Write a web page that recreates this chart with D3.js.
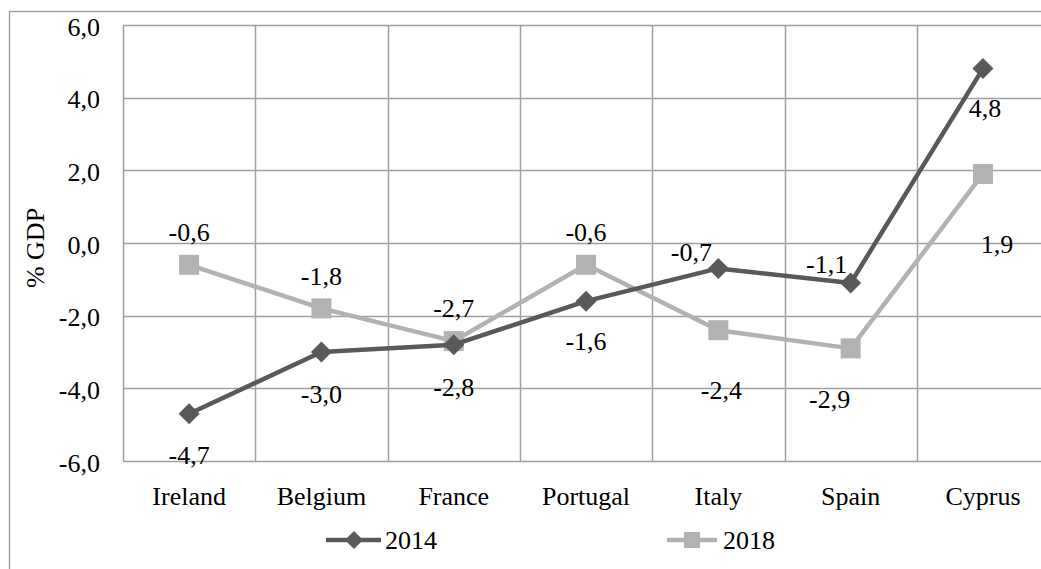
<!DOCTYPE html>
<html>
<head>
<meta charset="utf-8">
<script src="https://cdn.jsdelivr.net/npm/d3@7"></script>
<style>
  html, body { margin: 0; padding: 0; background: #fff; }
  svg { display: block; }
</style>
</head>
<body>
<svg id="chart" width="1041" height="569"></svg>
<script>
// ---- data ----
const categories = ["Ireland", "Belgium", "France", "Portugal", "Italy", "Spain", "Cyprus"];
const seriesNames = ["2014", "2018"];
const values2014 = [-4.7, -3.0, -2.8, -1.6, -0.7, -1.1, 4.8];
const values2018 = [-0.6, -1.8, -2.7, -0.6, -2.4, -2.9, 1.9];
const yTicks = [-6, -4, -2, 0, 2, 4, 6];
const yTitle = "% GDP";

// ---- label placement (layout only) ----
const labelOffset2014 = [[0, 42], [0, 42], [0, 43], [0, 40], [-27, -16], [-24, -18], [2, 40]];
const labelOffset2018 = [[0, -32], [0, -32], [0, -33], [0, -32], [3, 60], [-21, 51], [14, 71]];

const fmt = v => d3.format(".1f")(v).replace(".", ",").replace("−", "-");

const FONT = "'Liberation Serif', Tinos, 'Times New Roman', Times, 'DejaVu Serif', serif";
const svg = d3.select("#chart").attr("font-family", FONT);
const plot = { left: 123, top: 25, bottom: 461, right: 123 + 7 * 132.3 };
const FS = 26;

function T(sel) { return sel.attr("font-family", FONT).attr("font-size", FS).attr("fill", "#000"); }

// outer chart border
svg.append("rect").attr("x", 9.5).attr("y", 11.5).attr("width", 1100).attr("height", 700)
  .attr("fill", "none").attr("stroke", "#9a9a9a").attr("stroke-width", 1.3);

const x = d3.scaleBand().domain(categories).range([plot.left, plot.right]).padding(0);
const y = d3.scaleLinear().domain([-6, 6]).range([plot.bottom, plot.top]);

const grid = "#a0a0a0";
svg.append("g").selectAll("line").data(yTicks).join("line")
  .attr("x1", plot.left).attr("x2", plot.right)
  .attr("y1", d => Math.round(y(d)) + 0.5).attr("y2", d => Math.round(y(d)) + 0.5)
  .attr("stroke", grid).attr("stroke-width", 1.5);
const bounds = categories.map(c => x(c)).concat([plot.right]);
svg.append("g").selectAll("line").data(bounds).join("line")
  .attr("x1", d => Math.round(d) + 0.5).attr("x2", d => Math.round(d) + 0.5)
  .attr("y1", plot.top).attr("y2", plot.bottom)
  .attr("stroke", grid).attr("stroke-width", 1.5);

// y tick labels
T(svg.append("g").selectAll("text").data(yTicks).join("text"))
  .attr("x", 100).attr("y", d => y(d) + 2)
  .attr("text-anchor", "end").attr("dominant-baseline", "central")
  .text(d => fmt(d));

// y title
T(svg.append("text")).attr("transform", "translate(35,248) rotate(-90)")
  .attr("text-anchor", "middle").attr("dominant-baseline", "central")
  .text(yTitle);

// category labels
T(svg.append("g").selectAll("text").data(categories).join("text"))
  .attr("x", d => x(d) + x.bandwidth() / 2).attr("y", 505)
  .attr("text-anchor", "middle").text(d => d);

const cx = i => x(categories[i]) + x.bandwidth() / 2;
const line = d3.line().x((d, i) => cx(i)).y(d => y(d));

const col2014 = "#595959", col2018 = "#b2b2b2";

svg.append("path").datum(values2018).attr("d", line)
  .attr("fill", "none").attr("stroke", col2018).attr("stroke-width", 4.5).attr("stroke-linejoin", "round");
svg.append("g").selectAll("rect").data(values2018).join("rect")
  .attr("x", (d, i) => cx(i) - 10).attr("y", d => y(d) - 10)
  .attr("width", 20).attr("height", 20).attr("fill", col2018);

svg.append("path").datum(values2014).attr("d", line)
  .attr("fill", "none").attr("stroke", col2014).attr("stroke-width", 4.5).attr("stroke-linejoin", "round");
const diamond = s => `M0,${-s} L${s},0 L0,${s} L${-s},0 Z`;
svg.append("g").selectAll("path").data(values2014).join("path")
  .attr("transform", (d, i) => `translate(${cx(i)},${y(d)})`)
  .attr("d", diamond(10.5)).attr("fill", col2014);

function labels(vals, offs) {
  T(svg.append("g").selectAll("text").data(vals).join("text"))
    .attr("x", (d, i) => cx(i) + offs[i][0]).attr("y", (d, i) => y(d) + offs[i][1])
    .attr("text-anchor", "middle").attr("dominant-baseline", "central")
    .text(d => fmt(d));
}
labels(values2014, labelOffset2014);
labels(values2018, labelOffset2018);

// legend
const leg = svg.append("g");
const legY = 540;
leg.append("line").attr("x1", 326).attr("x2", 381).attr("y1", legY).attr("y2", legY)
  .attr("stroke", col2014).attr("stroke-width", 4.5);
leg.append("path").attr("transform", `translate(354,${legY})`).attr("d", diamond(9)).attr("fill", col2014);
T(leg.append("text")).attr("x", 385).attr("y", legY).attr("dominant-baseline", "central")
  .text(seriesNames[0]);
leg.append("line").attr("x1", 667).attr("x2", 717).attr("y1", legY).attr("y2", legY)
  .attr("stroke", col2018).attr("stroke-width", 4.5);
leg.append("rect").attr("x", 684).attr("y", legY - 8).attr("width", 16).attr("height", 16).attr("fill", col2018);
T(leg.append("text")).attr("x", 723).attr("y", legY).attr("dominant-baseline", "central")
  .text(seriesNames[1]);
</script>
</body>
</html>
